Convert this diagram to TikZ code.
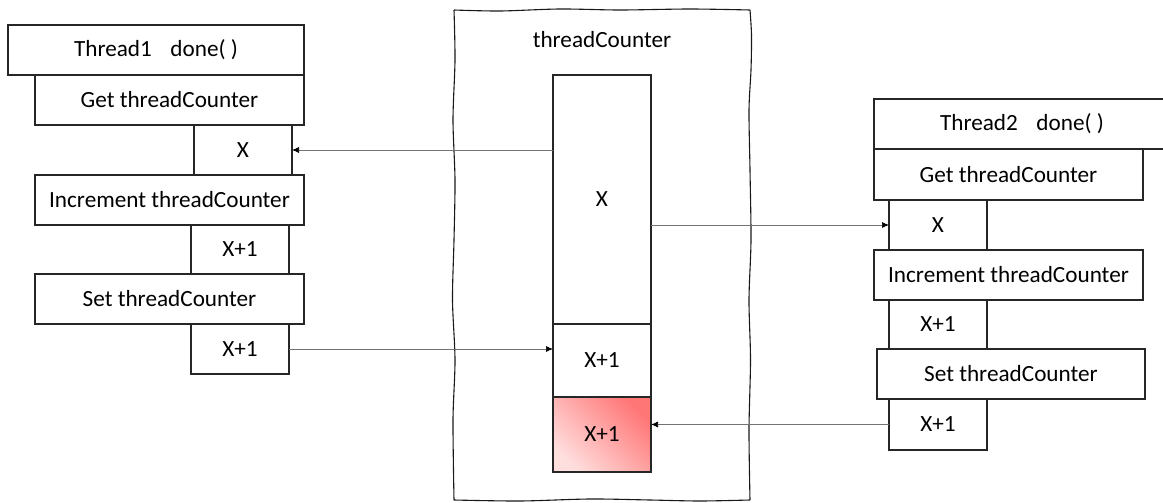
\documentclass[tikz,border=0pt]{standalone}
\usepackage{fontspec}
\setmainfont{Carlito}
\usetikzlibrary{arrows.meta}
\tikzset{
  box/.style={draw=black!85, line width=1.1pt, fill=white, inner sep=0pt, outer sep=0pt,
    font=\fontsize{23.2}{28}\selectfont, align=center},
  arr/.style={draw=black!55, line width=0.7pt, -{Latex[length=7pt,width=6pt,color=black]}},
  frame/.style={draw=black!90, line width=1.1pt},
}
\newcommand\bx[6]{\node[box, minimum width=#4pt, minimum height=#5pt] (#1) at (#2,#3) {#6};}
\begin{document}
\begin{tikzpicture}[x=1pt,y=-1pt]
\useasboundingbox (0,0) rectangle (1163,503);
% hand-drawn frame
\draw[frame] plot[smooth, tension=0.5] coordinates {(454,10) (500,11) (560,9) (620,10) (690,9) (750,10)};
\draw[frame] plot[smooth, tension=0.5] coordinates {(750,10) (751.5,35) (751,70) (749,110) (750,170) (751,240) (749,300) (750.5,360) (749,430) (750,500)};
\draw[frame] plot[smooth, tension=0.5] coordinates {(454,500) (520,501) (590,499) (650,500) (700,501) (750,500)};
\draw[frame] plot[smooth, tension=0.5] coordinates {(454,10) (455,60) (453,120) (455,180) (454,240) (452.5,300) (455,360) (453,420) (454,500)};
\node[font=\fontsize{23.2}{28}\selectfont, anchor=base] (title) at (602,48) {threadCounter};
% middle column
\bx{colX}{602}{199.5}{98}{249}{X}
\bx{colXa}{602}{360.5}{98}{73}{X+1}
\node[box, minimum width=98pt, minimum height=75pt,
  left color={rgb,255:red,255;green,222;blue,222},
  right color={rgb,255:red,255;green,118;blue,118}, shading angle=135] (red) at (602,434.5) {X+1};
% left thread
\bx{ta}{156}{50}{296}{50}{Thread1\hspace{0.8em}done( )}
\bx{ga}{169.5}{100}{269}{50}{Get threadCounter}
\bx{xa}{243}{150}{98}{50}{X}
\bx{ia}{169.5}{200}{269}{50}{Increment threadCounter}
\bx{pa}{240}{249.5}{98}{49}{X+1}
\bx{sa}{169.5}{299}{269}{50}{Set threadCounter}
\bx{qa}{240}{349}{98}{50}{X+1}
% right thread
\begin{scope}
\clip (0,0) rectangle (1163,503);
\bx{tb}{1022}{124}{296}{50}{Thread2\hspace{0.8em}done( )}
\end{scope}
\bx{gb}{1008.5}{174.5}{269}{51}{Get threadCounter}
\bx{xb}{938}{225}{98}{50}{X}
\bx{ib}{1008.5}{275}{269}{50}{Increment threadCounter}
\bx{pb}{938}{324.5}{98}{49}{X+1}
\bx{sb}{1011}{374}{268}{50}{Set threadCounter}
\bx{qb}{938}{424.5}{98}{51}{X+1}
% connectors
\draw[arr] (xa.east -| colX.west) -- (xa.east);
\draw[arr] (colX.east |- xb.west) -- (xb.west);
\draw[arr] (qa.east) -- (qa.east -| colXa.west);
\draw[arr] (qb.west) -- (qb.west -| red.east);
\end{tikzpicture}
\end{document}
